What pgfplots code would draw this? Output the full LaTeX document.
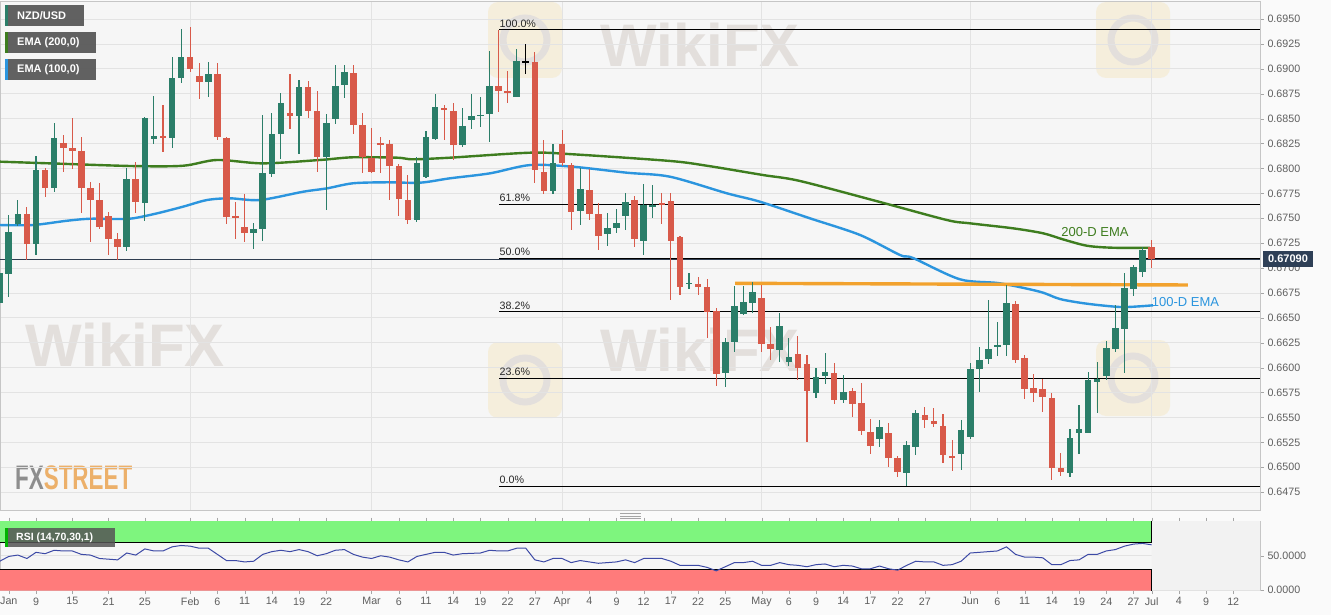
\documentclass[border=0pt]{standalone}
\usepackage{pgfplots}
\pgfplotsset{compat=1.18}
\usepackage{pgfplotstable}
\usepackage{fontspec}
\setmainfont{Liberation Sans}

\definecolor{upc}{HTML}{2B7E69}
\definecolor{dnc}{HTML}{D85A4A}
\definecolor{emag}{HTML}{3E7D1F}
\definecolor{emab}{HTML}{2B95DE}
\definecolor{orng}{HTML}{F2A22E}
\definecolor{pagebg}{HTML}{FAFAFA}
\definecolor{plotbg}{HTML}{F6F6F6}
\definecolor{gridc}{HTML}{E3E3E3}
\definecolor{tickc}{HTML}{5F5F5F}
\definecolor{boxc}{HTML}{555555}
\definecolor{pricebox}{HTML}{2E3F56}
\definecolor{rsig}{HTML}{7EF57E}
\definecolor{rsir}{HTML}{FF7B7B}
\definecolor{rsil}{HTML}{3D4AA6}
\definecolor{wmc}{HTML}{E3DFDC}
\definecolor{wmy}{HTML}{F5EBD2}

% daily candles, x = trading day (0 = 9 Jan), open high low close
\pgfplotstableread{
x o h l c
-4 0.66649 0.67583 0.65173 0.66950
-3 0.66940 0.67532 0.66712 0.67365
-2 0.67442 0.67683 0.67422 0.67539
0 0.67241 0.68125 0.67131 0.67984
2 0.67807 0.68453 0.67766 0.68302
10 0.67214 0.68001 0.67174 0.67891
12 0.67656 0.68519 0.67475 0.68503
13 0.68292 0.68727 0.68245 0.68326
15 0.68309 0.69122 0.68202 0.68911
16 0.68911 0.69397 0.68855 0.69122
19 0.68871 0.69072 0.68720 0.68948
24 0.67349 0.67449 0.67188 0.67389
25 0.67389 0.68536 0.67274 0.67951
26 0.67944 0.68560 0.67917 0.68343
27 0.68343 0.68754 0.68092 0.68654
29 0.68526 0.68888 0.68142 0.68815
32 0.68118 0.68543 0.67583 0.68453
33 0.68493 0.69038 0.68446 0.68828
34 0.68838 0.69038 0.68704 0.68971
42 0.67482 0.68118 0.67465 0.68058
43 0.67917 0.68376 0.67901 0.68313
44 0.68292 0.68744 0.68285 0.68614
47 0.68235 0.68604 0.68218 0.68426
48 0.68486 0.68747 0.68393 0.68526
49 0.68531 0.68720 0.68413 0.68541
50 0.68546 0.69182 0.68268 0.68828
53 0.68720 0.69196 0.68714 0.69082
57 0.67776 0.68245 0.67743 0.68058
60 0.67576 0.68001 0.67432 0.67790
63 0.67339 0.67549 0.67221 0.67399
64 0.67399 0.67590 0.67355 0.67449
65 0.67522 0.67750 0.67382 0.67660
67 0.67274 0.67844 0.67131 0.67633
68 0.67616 0.67834 0.67499 0.67633
72 0.66842 0.66953 0.66786 0.66850
76 0.65949 0.66301 0.65803 0.66260
77 0.66260 0.66820 0.66160 0.66619
78 0.66538 0.66820 0.66528 0.66662
79 0.66652 0.66863 0.66545 0.66762
82 0.66177 0.66545 0.66060 0.66421
83 0.66060 0.66295 0.66016 0.66110
86 0.65748 0.65993 0.65692 0.65909
87 0.65916 0.66144 0.65836 0.65959
89 0.65675 0.65926 0.65642 0.65758
93 0.65280 0.65474 0.65200 0.65401
96 0.64945 0.65266 0.64812 0.65223
97 0.65206 0.65575 0.65123 0.65542
102 0.65133 0.65481 0.64972 0.65374
103 0.65307 0.66050 0.65280 0.65983
104 0.65983 0.66210 0.65758 0.66077
105 0.66084 0.66679 0.66036 0.66184
106 0.66217 0.66461 0.66117 0.66227
107 0.66227 0.66830 0.66117 0.66652
114 0.64945 0.65381 0.64899 0.65291
115 0.65341 0.65625 0.65133 0.65381
116 0.65347 0.65959 0.65341 0.65876
117 0.65856 0.66060 0.65542 0.65883
118 0.65916 0.66270 0.65876 0.66194
119 0.66184 0.66629 0.66160 0.66395
120 0.66385 0.66947 0.65943 0.66803
121 0.66786 0.67030 0.66719 0.67013
122 0.66963 0.67214 0.66907 0.67181
}\upcandles

\pgfplotstableread{
x o h l c
-1 0.67539 0.67610 0.67081 0.67241
1 0.67984 0.68004 0.67716 0.67807
3 0.68252 0.68336 0.67967 0.68208
4 0.68208 0.68503 0.67991 0.68175
5 0.68175 0.68319 0.67549 0.67807
6 0.67800 0.67867 0.67264 0.67683
7 0.67683 0.67857 0.67389 0.67415
8 0.67525 0.67559 0.67131 0.67288
9 0.67288 0.67349 0.67081 0.67214
11 0.67891 0.68068 0.67549 0.67666
14 0.68326 0.68637 0.68168 0.68309
17 0.69116 0.69423 0.68971 0.68998
18 0.68928 0.69062 0.68694 0.68871
20 0.68948 0.69062 0.68285 0.68313
21 0.68302 0.68319 0.67442 0.67515
22 0.67522 0.67666 0.67288 0.67499
23 0.67415 0.67743 0.67264 0.67349
28 0.68554 0.68948 0.68393 0.68526
30 0.68815 0.68878 0.68503 0.68580
31 0.68580 0.68780 0.67967 0.68118
35 0.68961 0.69038 0.68343 0.68436
36 0.68436 0.68560 0.67957 0.68118
37 0.68102 0.68403 0.67957 0.67967
38 0.68258 0.68319 0.67957 0.68242
39 0.68242 0.68285 0.67683 0.68024
40 0.68024 0.68044 0.67522 0.67690
41 0.67683 0.67934 0.67442 0.67482
45 0.68610 0.68637 0.68285 0.68587
46 0.68580 0.68660 0.68085 0.68235
51 0.68828 0.69393 0.68570 0.68777
52 0.68780 0.68981 0.68654 0.68754
55 0.69072 0.69172 0.67857 0.67984
56 0.67967 0.68292 0.67743 0.67776
58 0.68242 0.68386 0.68027 0.68058
59 0.68034 0.68058 0.67382 0.67565
61 0.67783 0.67991 0.67482 0.67539
62 0.67539 0.67656 0.67181 0.67322
66 0.67683 0.67723 0.67214 0.67288
69 0.67650 0.67750 0.67442 0.67633
70 0.67676 0.67756 0.66679 0.67274
71 0.67315 0.67322 0.66729 0.66813
73 0.66840 0.66913 0.66729 0.66813
74 0.66807 0.66887 0.66295 0.66562
75 0.66569 0.66596 0.65816 0.65933
80 0.66696 0.66830 0.66160 0.66237
81 0.66237 0.66411 0.66077 0.66184
84 0.66134 0.66318 0.65876 0.65993
85 0.66036 0.66127 0.65256 0.65765
88 0.65943 0.66044 0.65635 0.65675
90 0.65768 0.65793 0.65501 0.65635
91 0.65642 0.65843 0.65324 0.65367
92 0.65351 0.65481 0.65133 0.65213
94 0.65341 0.65441 0.65005 0.65090
95 0.65090 0.65113 0.64905 0.64955
98 0.65531 0.65602 0.65391 0.65474
99 0.65467 0.65592 0.65401 0.65434
100 0.65414 0.65531 0.65040 0.65123
101 0.65113 0.65273 0.64965 0.65100
108 0.66636 0.66669 0.66050 0.66077
109 0.66094 0.66127 0.65682 0.65782
110 0.65793 0.65936 0.65658 0.65748
111 0.65782 0.65883 0.65558 0.65702
112 0.65692 0.65748 0.64872 0.64989
113 0.64989 0.65146 0.64912 0.64955
123 0.67214 0.67281 0.66997 0.67090
}\dncandles

\pgfplotstableread{
x o h l c
54 0.69072 0.69249 0.68948 0.69072
}\dojicandles

\pgfplotstableread{
x r
-4 42
-3 49
-2 51
-1 46
0 55
1 53
2 58
3 57
4 57
5 52
6 51
7 46
8 45
9 44
10 54
11 51
12 60
13 57
14 57
15 63
16 65
17 64
18 61
19 61
20 52
21 43
22 43
23 41
24 42
25 52
26 56
27 58
28 56
29 59
30 56
31 50
32 53
33 58
34 59
35 52
36 48
37 46
38 50
39 48
40 44
41 41
42 49
43 52
44 55
45 55
46 51
47 53
48 53.5
49 54
50 58
51 57
52 57
53 61
54 61
55 44
56 41
57 46
58 46
59 40
60 43
61 41
62 39
63 40
64 41
65 44
66 40
67 46
68 46
69 46
70 42
71 36
72 36
73 36
74 33
75 28
76 34
77 40
78 40
79 42
80 36
81 36
82 40
83 37
84 36
85 34
86 37
87 38
88 34
89 36
90 35
91 31
92 31
93 35
94 31
95 29
96 36
97 42
98 41
99 41
100 36
101 37
102 42
103 54
104 55
105 56
106 57
107 63
108 52
109 48
110 48
111 47
112 37
113 37
114 43
115 44
116 52
117 52
118 57
119 59
120 64
121 67
122 68
123 66
}\rsidata

\pgfplotsset{
  wick/.style={draw=none, mark=none, forget plot,
    error bars/y dir=both, error bars/y explicit, error bars/error mark=none,
    error bars/error bar style={draw=#1, solid, line width=1.1pt}},
  body/.style={draw=none, mark=none, forget plot,
    error bars/y dir=both, error bars/y explicit, error bars/error mark=none,
    error bars/error bar style={draw=#1, solid, line width=6.6pt}},
}
\newcommand{\candles}[2]{%
  \addplot[wick=#2] table[x=x, y expr={(\thisrow{h}+\thisrow{l})/2},
    y error expr={(\thisrow{h}-\thisrow{l})/2}] {#1};
  \addplot[body=#2] table[x=x, y expr={(\thisrow{o}+\thisrow{c})/2},
    y error expr={max(abs(\thisrow{c}-\thisrow{o})/2,0.00005)}] {#1};
}

\begin{document}
\begin{tikzpicture}
\path[use as bounding box, fill=pagebg] (0pt,0pt) rectangle (1331pt,-615pt);
\fill[plotbg] (0pt,-1pt) rectangle (1260pt,-510pt);

% faint watermarks
\foreach \lx/\ly in {525/-380, 1133/-378, 525/-40, 1133/-40}{
  \fill[wmy, rounded corners=10pt, opacity=0.7] (\lx pt-37pt,\ly pt-38pt) rectangle (\lx pt+37pt,\ly pt+38pt);
  \draw[wmc, line width=7pt] (\lx pt,\ly pt) circle (22pt);
}
\begin{scope}[font=\fontsize{60}{60}\selectfont\bfseries]
  \node[text=wmc] at (125pt,-345pt) {WikiFX};
  \node[text=wmc] at (700pt,-350pt) {WikiFX};
  \node[text=wmc] at (700pt,-45pt) {WikiFX};
\end{scope}
\node[anchor=west, inner sep=0pt, xscale=0.66, font=\fontsize{34}{34}\selectfont\bfseries] at (15pt,-478pt) {\textcolor[HTML]{8E8E8E}{FX}\textcolor[HTML]{ECB06A}{STREET}};

\begin{axis}[
  at={(0pt,-1pt)}, anchor=north west,
  scale only axis, width=1260pt, height=509pt,
  xmin=-3.97, xmax=134.95, ymin=0.64571, ymax=0.69681,
  axis line style={draw=gray!45},
  xtick={17,37,58,80,103,123}, xticklabels={},
  major x tick style={draw=none},
  ytick={0.6475,0.65,0.6525,0.655,0.6575,0.66,0.6625,0.665,0.6675,0.67,0.6725,0.675,0.6775,0.68,0.6825,0.685,0.6875,0.69,0.6925,0.695},
  scaled y ticks=false,
  yticklabel pos=right,
  /pgf/number format/assume math mode=true,
  yticklabel style={/pgf/number format/fixed, /pgf/number format/fixed zerofill, /pgf/number format/precision=4},
  grid=major, grid style={draw=gridc, line width=0.8pt},
  tick align=outside, major tick length=4pt,
  major y tick style={draw=gray!70},
  tick label style={font=\fontsize{10.7}{12}\selectfont, text=tickc},
]
% price line and fibonacci levels
\addplot[draw={rgb,255:red,47;green,61;blue,80}, line width=1pt] coordinates {(-3.97,0.6709) (134.95,0.6709)};
\addplot[black, line width=1pt] coordinates {(51.05,0.6939) (134.95,0.6939)};
\addplot[black, line width=1pt] coordinates {(51.05,0.6764) (134.95,0.6764)};
\addplot[black, line width=1pt] coordinates {(51.05,0.6710) (134.95,0.6710)};
\addplot[black, line width=1pt] coordinates {(51.05,0.6656) (134.95,0.6656)};
\addplot[black, line width=1pt] coordinates {(51.05,0.6589) (134.95,0.6589)};
\addplot[black, line width=1pt] coordinates {(51.05,0.6481) (134.95,0.6481)};
\begin{scope}[font=\fontsize{10.7}{12}\selectfont, text={rgb,255:red,40;green,40;blue,40}]
\node[anchor=south west, inner sep=0pt] at (axis cs:51.1,0.69415) {100.0\%};
\node[anchor=south west, inner sep=0pt] at (axis cs:51.1,0.67665) {61.8\%};
\node[anchor=south west, inner sep=0pt] at (axis cs:51.1,0.67125) {50.0\%};
\node[anchor=south west, inner sep=0pt] at (axis cs:51.1,0.66585) {38.2\%};
\node[anchor=south west, inner sep=0pt] at (axis cs:51.1,0.65915) {23.6\%};
\node[anchor=south west, inner sep=0pt] at (axis cs:51.1,0.64835) {0.0\%};
\end{scope}
% moving averages
\addplot[emag, line width=2.4pt, smooth] coordinates {
(-3.97,0.68068) (1.54,0.68051) (10.69,0.68024) (16.21,0.68027) (19.96,0.68085)
(25.03,0.68051) (31.31,0.68085) (34.95,0.68112) (39.80,0.68108) (41.57,0.68092)
(45.65,0.68108) (54.47,0.68158) (59.21,0.68142) (69.90,0.68075) (73.98,0.68027)
(80.15,0.67934) (84.23,0.67874) (93.05,0.67663) (100.44,0.67482) (102.98,0.67449)
(107.72,0.67399) (111.03,0.67349) (113.23,0.67288) (115.88,0.67224) (118.74,0.67204)
(122.82,0.67204)};
\addplot[emab, line width=2.4pt, smooth] coordinates {
(-3.97,0.67432) (-0.33,0.67432) (3.42,0.67475) (5.95,0.67495) (8.93,0.67492)
(10.69,0.67499) (13.34,0.67549) (16.21,0.67616) (18.85,0.67683) (21.39,0.67700)
(24.70,0.67683) (29.44,0.67766) (32.08,0.67800) (34.95,0.67851) (38.70,0.67861)
(42.34,0.67857) (45.65,0.67901) (50.06,0.67951) (54.47,0.68034) (59.21,0.68017)
(65.16,0.67957) (69.90,0.67917) (76.19,0.67750) (79.82,0.67666) (85.34,0.67499)
(90.85,0.67332) (95.26,0.67131) (96.69,0.67101) (101.87,0.66887) (106.28,0.66847)
(110.69,0.66762) (112.90,0.66689) (115.88,0.66642) (119.51,0.66609) (121.72,0.66616)
(123.15,0.66626)};
% resistance line
\addplot[orng, line width=3.4pt] coordinates {(77.07,0.66847) (127.0,0.66830)};
% candles
\candles{\upcandles}{upc}
\candles{\dncandles}{dnc}
\candles{\dojicandles}{black}
\node[text=emag, font=\fontsize{13}{15}\selectfont] at (axis cs:116.76,0.67359) {200-D EMA};
\node[text=emab, font=\fontsize{13}{15}\selectfont] at (axis cs:126.74,0.66656) {100-D EMA};
\end{axis}

% RSI panel
\begin{axis}[
  at={(0pt,-521.5pt)}, anchor=north west,
  scale only axis, width=1260pt, height=68.5pt,
  xmin=-3.97, xmax=134.95, ymin=0, ymax=100,
  axis background/.style={fill=plotbg},
  axis line style={draw=gray!45},
  xtick={-3,0,4,8,12,17,20,23,26,29,32,37,40,43,46,49,52,55,58,61,64,67,70,73,76,80,83,86,89,92,95,98,103,106,109,112,115,118,121,123,126,129,132},
  xticklabels={Jan,9,15,21,25,Feb,6,11,14,19,22,Mar,6,11,14,19,22,27,Apr,4,9,12,17,22,25,May,6,9,14,17,22,27,Jun,6,11,14,19,24,27,Jul,4,9,12},
  ytick={0,50}, yticklabels={0.0000,50.0000},
  yticklabel pos=right,
  ymajorgrids, grid style={draw=gridc, line width=0.8pt},
  tick align=outside, major tick length=4pt,
  tick style={draw=gray!70},
  tick label style={font=\fontsize{10.7}{12}\selectfont, text=tickc},
]
\addplot[fill=rsig, draw=none] coordinates {(-5,70) (123,70) (123,101) (-5,101) (-5,70)};
\addplot[fill=rsir, draw=none] coordinates {(-5,-1) (123,-1) (123,30) (-5,30) (-5,-1)};
\addplot[fill=gray!10, draw=none] coordinates {(123,-1) (136,-1) (136,101) (123,101) (123,-1)};
\addplot[black, line width=1pt] coordinates {(-5,70) (123,70) (123,101)};
\addplot[black, line width=1pt] coordinates {(-5,30) (123,30) (123,-1)};
\addplot[rsil, line width=1pt] table[x=x, y=r] {\rsidata};
\end{axis}

% separator handle
\foreach \hy in {513.5,516,518.5}{\draw[gray!70, line width=0.8pt] (620pt,-\hy pt) -- (641pt,-\hy pt);}

% legend tags
\begin{scope}[font=\fontsize{11}{13}\selectfont\bfseries]
\fill[boxc, opacity=0.92] (5pt,-5pt) rectangle (84pt,-26.5pt);
\fill[upc] (5pt,-5pt) rectangle (7.5pt,-26.5pt);
\node[anchor=west, text=white, inner sep=0pt] at (17pt,-15.8pt) {NZD/USD};
\fill[boxc, opacity=0.92] (5pt,-32pt) rectangle (96pt,-53.5pt);
\fill[emag] (5pt,-32pt) rectangle (7.5pt,-53.5pt);
\node[anchor=west, text=white, inner sep=0pt] at (17pt,-42.8pt) {EMA (200,0)};
\fill[boxc, opacity=0.92] (5pt,-59pt) rectangle (96pt,-80.5pt);
\fill[emab] (5pt,-59pt) rectangle (7.5pt,-80.5pt);
\node[anchor=west, text=white, inner sep=0pt] at (17pt,-69.8pt) {EMA (100,0)};
\end{scope}
\begin{scope}[font=\fontsize{10.5}{12}\selectfont\bfseries]
\fill[boxc, opacity=0.85] (5pt,-528pt) rectangle (115pt,-547pt);
\fill[green!70!black] (5pt,-528pt) rectangle (7.5pt,-547pt);
\node[anchor=west, text=white, inner sep=0pt] at (16pt,-537.5pt) {RSI (14,70,30,1)};
\end{scope}

% last price tag
\fill[pricebox] (1263pt,-251pt) rectangle (1313pt,-266.5pt);
\node[text=white, font=\fontsize{11}{13}\selectfont\bfseries, inner sep=0pt] at (1288pt,-258.8pt) {0.67090};
\end{tikzpicture}
\end{document}
